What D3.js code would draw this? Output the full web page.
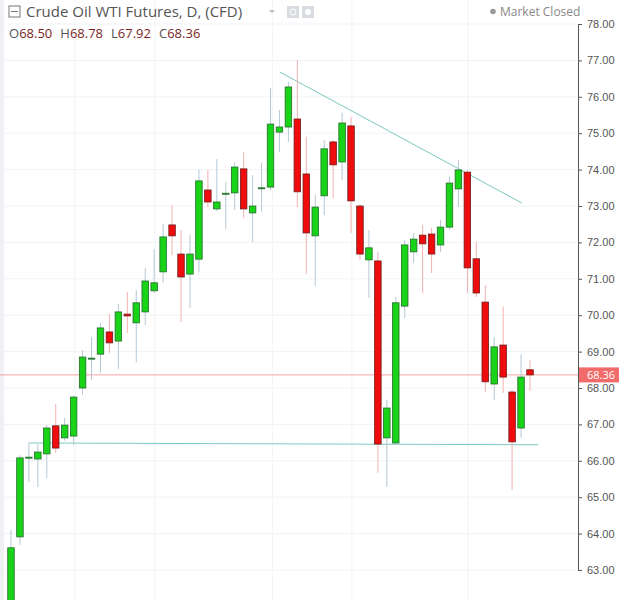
<!DOCTYPE html>
<html>
<head>
<meta charset="utf-8">
<script src="https://cdn.jsdelivr.net/npm/d3@7"></script>
<style>
  body { margin: 0; background: #fff; }
  svg { font-family: "Open Sans", "DejaVu Sans", sans-serif; }
</style>
</head>
<body>
<div id="chart"></div>
<script>
const width = 626;
const height = 600;

// [open, high, low, close]
const candles = [
  [61.9, 64.10, 61.5, 63.61], [63.91, 66.15, 63.69, 66.08], [66.08, 66.52, 65.42, 66.10],
  [66.05, 66.46, 65.28, 66.24], [66.19, 66.98, 65.53, 66.90], [66.96, 67.56, 66.21, 66.35],
  [66.63, 67.18, 66.55, 66.98], [66.68, 67.80, 66.43, 67.75], [68.00, 69.04, 67.81, 68.85],
  [68.80, 69.40, 68.22, 68.82], [68.93, 69.79, 68.41, 69.65], [69.54, 70.03, 68.96, 69.24],
  [69.29, 70.31, 68.52, 70.09], [70.03, 70.64, 69.51, 69.98], [69.79, 70.69, 68.71, 70.34],
  [70.09, 71.30, 69.73, 70.94], [70.67, 71.82, 70.60, 70.89], [71.19, 72.51, 70.89, 72.15],
  [72.48, 73.03, 71.65, 72.18], [71.68, 72.34, 69.81, 71.05], [71.13, 72.20, 70.20, 71.68],
  [71.54, 73.99, 71.19, 73.69], [73.44, 73.99, 72.97, 73.11], [72.92, 74.29, 72.86, 73.11],
  [73.33, 73.66, 72.37, 73.35], [73.36, 74.21, 72.89, 74.07], [74.02, 74.48, 72.67, 72.92],
  [72.81, 73.85, 72.01, 73.00], [73.49, 74.18, 72.84, 73.50], [73.52, 76.24, 73.44, 75.25],
  [75.03, 75.64, 74.48, 75.17], [75.17, 76.41, 74.76, 76.27], [75.39, 77.01, 72.97, 73.39],
  [73.88, 74.90, 71.13, 72.26], [72.18, 73.30, 70.80, 72.97], [73.28, 74.81, 72.75, 74.57],
  [74.76, 74.81, 73.22, 74.13], [74.21, 75.56, 73.71, 75.28], [75.20, 75.45, 72.26, 73.14],
  [73.00, 73.05, 71.52, 71.68], [71.52, 72.34, 70.47, 71.85], [71.49, 71.74, 65.67, 66.46],
  [66.63, 67.67, 65.28, 67.45], [66.49, 70.50, 66.45, 70.34], [70.25, 72.07, 69.92, 71.93],
  [71.74, 72.26, 71.43, 72.09], [72.20, 72.48, 70.61, 71.96], [72.23, 72.40, 71.16, 71.68],
  [71.93, 72.62, 71.74, 72.42], [72.42, 73.80, 72.35, 73.63], [73.47, 74.26, 72.97, 73.99],
  [73.93, 73.99, 70.61, 71.30], [71.55, 72.01, 70.50, 70.61], [70.36, 70.83, 67.89, 68.17],
  [68.11, 69.40, 67.67, 69.13], [69.18, 70.23, 67.86, 68.30], [67.89, 67.95, 65.20, 66.52],
  [66.90, 68.93, 66.63, 68.30], [68.50, 68.78, 67.92, 68.36]
];
const lastPrice = 68.36;
const priceTicks = [63, 64, 65, 66, 67, 68, 69, 70, 71, 72, 73, 74, 75, 76, 77, 78];
const timeGrid = [7.15, 16.1, 29.2, 38.1, 51.1];
// trend lines: [index, price]
const resistance = [[30.05, 76.68], [57.1, 73.08]];
const support = [[2.1, 66.49], [58.9, 66.44]];

const axisX = 578;
const x = d3.scaleLinear().domain([0, candles.length - 1]).range([11, 530]);
const y = d3.scaleLinear().domain([63, 78]).range([570, 24]);

const svg = d3.select("#chart").append("svg")
  .attr("width", width).attr("height", height);

const grid = svg.append("g");
grid.selectAll(".hg").data(priceTicks).enter().append("line")
  .attr("x1", 0).attr("x2", axisX)
  .attr("y1", d => y(d)).attr("y2", d => y(d))
  .attr("stroke", "#f0f3f5");
grid.selectAll(".vg").data(timeGrid).enter().append("line")
  .attr("x1", d => x(d)).attr("x2", d => x(d))
  .attr("y1", 0).attr("y2", height)
  .attr("stroke", "#f0f3f5");

// left edge strip
svg.append("rect").attr("x", 0).attr("y", 0).attr("width", 4).attr("height", height).attr("fill", "#eef0f3");

// trend lines
const line = d3.line().x(d => x(d[0])).y(d => y(d[1]));
[resistance, support].forEach(t => {
  svg.append("path").attr("d", line(t)).attr("stroke", "#7cc9c0").attr("stroke-width", 1).attr("fill", "none");
});

// last price line
svg.append("line")
  .attr("x1", 0).attr("x2", axisX)
  .attr("y1", y(lastPrice)).attr("y2", y(lastPrice))
  .attr("stroke", "#f5a3a3").attr("stroke-width", 1);

const bodyW = 6.5;
const c = svg.append("g").selectAll("g").data(candles).enter().append("g");
c.append("line")
  .attr("x1", (d, i) => x(i)).attr("x2", (d, i) => x(i))
  .attr("y1", d => y(d[1])).attr("y2", d => y(d[2]))
  .attr("stroke", d => d[3] >= d[0] ? "#b4c8d4" : "#f4b0b0");
c.append("rect")
  .attr("x", (d, i) => x(i) - bodyW / 2)
  .attr("width", bodyW)
  .attr("y", d => y(Math.max(d[0], d[3])))
  .attr("height", d => Math.max(1, Math.abs(y(d[0]) - y(d[3]))))
  .attr("fill", d => d[3] >= d[0] ? "#18d318" : "#f00c0c")
  .attr("stroke", d => d[3] >= d[0] ? "#236b2a" : "#6b1c1c")
  .attr("stroke-width", 0.8);

// right axis
svg.append("rect").attr("x", axisX).attr("y", 0).attr("width", width - axisX).attr("height", height).attr("fill", "#fff");
const axis = svg.append("g")
  .attr("transform", `translate(${axisX},0)`)
  .call(d3.axisRight(y).tickValues(priceTicks).tickSize(4).tickFormat(d3.format(".2f")));
axis.select(".domain").attr("stroke", "#555");
axis.selectAll(".tick line").attr("stroke", "#555");
axis.selectAll(".tick text").attr("fill", "#555").attr("font-size", 11).attr("x", 9);

svg.append("rect")
  .attr("x", axisX + 1).attr("y", y(lastPrice) - 7.5).attr("width", 40).attr("height", 15)
  .attr("fill", "#f26b6b");
svg.append("text")
  .attr("x", axisX + 9).attr("y", y(lastPrice) + 4)
  .attr("font-size", 11).attr("fill", "#fff").text(lastPrice.toFixed(2));

// header
svg.append("rect").attr("x", 9).attr("y", 6).attr("width", 11).attr("height", 11)
  .attr("fill", "none").attr("stroke", "#777");
svg.append("line").attr("x1", 11).attr("x2", 18).attr("y1", 11.5).attr("y2", 11.5).attr("stroke", "#777");
svg.append("text").attr("x", 26).attr("y", 17).attr("font-size", 15).attr("fill", "#555")
  .text("Crude Oil WTI Futures, D, (CFD)");
svg.append("path").attr("d", "M269,10 l6,0 l-3,3 z").attr("fill", "#bbb");
[[240, 0], [246, 1]].forEach(() => {});
svg.append("rect").attr("x", 287).attr("y", 6).attr("width", 12).attr("height", 12).attr("fill", "#d8dbe0");
svg.append("circle").attr("cx", 293).attr("cy", 12).attr("r", 3).attr("fill", "none").attr("stroke", "#fff");
svg.append("rect").attr("x", 302).attr("y", 6).attr("width", 12).attr("height", 12).attr("fill", "#d8dbe0");
svg.append("circle").attr("cx", 308).attr("cy", 12).attr("r", 3).attr("fill", "#fff");

const ohlc = [["O", "68.50"], ["H", "68.78"], ["L", "67.92"], ["C", "68.36"]];
const t = svg.append("text").attr("x", 9).attr("y", 38).attr("font-size", 13);
ohlc.forEach((p, i) => {
  t.append("tspan").attr("fill", "#555").attr("dx", i ? 8 : 0).text(p[0]);
  t.append("tspan").attr("fill", "#7a1f1f").text(p[1]);
});

svg.append("circle").attr("cx", 493).attr("cy", 11.5).attr("r", 2.8).attr("fill", "#999");
svg.append("text").attr("x", 500).attr("y", 16).attr("font-size", 12).attr("fill", "#888").text("Market Closed");
</script>
</body>
</html>
